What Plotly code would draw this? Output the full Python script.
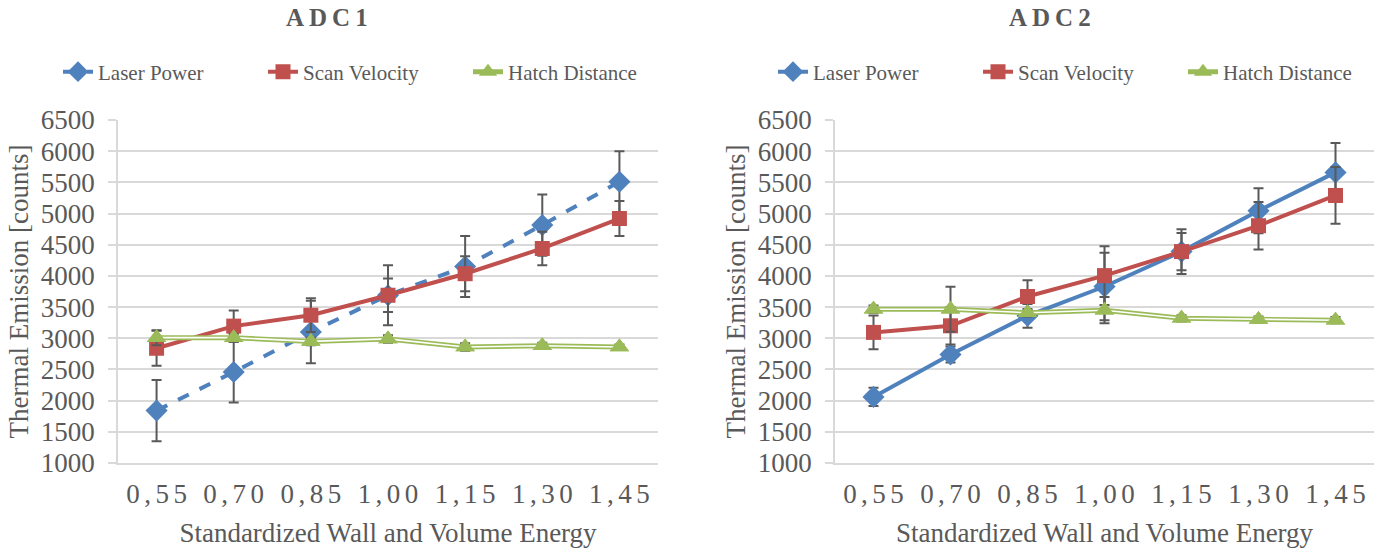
import plotly.graph_objects as go

categories = ["0,55", "0,70", "0,85", "1,00", "1,15", "1,30", "1,45"]
SP = "\u2006"
tick_text = [SP.join(c) for c in categories]
y_ticks = [1000, 1500, 2000, 2500, 3000, 3500, 4000, 4500, 5000, 5500, 6000, 6500]

# ADC1
laser1 = [1840, 2460, 3100, 3690, 4150, 4815, 5510]
laser1_err = [490, 490, 500, 480, 490, 490, 490]
scan1 = [2840, 3195, 3370, 3690, 4035, 4440, 4920]
scan1_err = [280, 250, 270, 270, 280, 270, 280]
hatch1 = [3010, 3010, 2950, 2990, 2860, 2880, 2860]
hatch1_err = [120, 60, 60, 60, 60, 50, 40]

# ADC2
laser2 = [2060, 2740, 3360, 3830, 4390, 5045, 5660]
laser2_err = [145, 130, 190, 540, 360, 360, 470]
scan2 = [3094, 3200, 3670, 4005, 4390, 4805, 5290]
scan2_err = [270, 300, 260, 470, 300, 380, 455]
hatch2 = [3465, 3465, 3410, 3450, 3320, 3300, 3290]
hatch2_err = [60, 360, 60, 210, 50, 50, 50]

BLUE = "#4F81BD"
RED = "#C0504D"
GREEN = "#9BBB59"
GRAY_TXT = "#595959"
GRID = "#D9D9D9"
ERR = "#595959"
FONT = "Liberation Serif"

fig = go.Figure()


def err(vals):
    return dict(type="data", array=vals, visible=True, color=ERR, thickness=2, width=5)


def add_panel(xa, ya, leg, laser, laser_err, scan, scan_err, hatch, hatch_err, dash):
    fig.add_trace(go.Scatter(
        x=categories, y=laser, name="Laser Power", mode="lines+markers",
        line=dict(color=BLUE, width=4, dash=dash),
        marker=dict(symbol="diamond", size=17, color=BLUE),
        error_y=err(laser_err), xaxis=xa, yaxis=ya, legend=leg))
    fig.add_trace(go.Scatter(
        x=categories, y=scan, name="Scan Velocity", mode="lines+markers",
        line=dict(color=RED, width=4),
        marker=dict(symbol="square", size=15, color=RED),
        error_y=err(scan_err), xaxis=xa, yaxis=ya, legend=leg))
    fig.add_trace(go.Scatter(
        x=categories, y=hatch, name="Hatch Distance", mode="lines+markers",
        line=dict(color=GREEN, width=5),
        marker=dict(symbol="triangle-up", size=17, color=GREEN),
        error_y=err(hatch_err), xaxis=xa, yaxis=ya, legend=leg))
    fig.add_trace(go.Scatter(
        x=categories, y=hatch, mode="lines", showlegend=False, hoverinfo="skip",
        line=dict(color="white", width=1.6), xaxis=xa, yaxis=ya))
    fig.add_trace(go.Scatter(
        x=categories, y=hatch, mode="markers", showlegend=False, hoverinfo="skip",
        marker=dict(symbol="triangle-up", size=17, color=GREEN), xaxis=xa, yaxis=ya))


add_panel("x", "y", "legend", laser1, laser1_err, scan1, scan1_err, hatch1, hatch1_err, "dash")
add_panel("x2", "y2", "legend2", laser2, laser2_err, scan2, scan2_err, hatch2, hatch2_err, "solid")

W, H = 1384, 550


def px_x(p):
    return p / W


def px_y(p):
    return 1 - p / H


xaxis_common = dict(
    type="category", categoryorder="array", categoryarray=categories,
    tickmode="array", tickvals=categories, ticktext=tick_text,
    showgrid=False, showline=True, linecolor=GRID, linewidth=1.5,
    ticks="", tickfont=dict(family=FONT, size=27, color=GRAY_TXT),
    ticklabelstandoff=6, automargin=False,
    title=dict(text="Standardized Wall and Volume Energy",
               font=dict(family=FONT, size=27, color=GRAY_TXT), standoff=15),
    range=[-0.5, 6.5], fixedrange=True,
)
yaxis_common = dict(
    range=[1000, 6500], tickvals=y_ticks, showgrid=True, gridcolor=GRID, gridwidth=1.5,
    showline=True, linecolor=GRID, linewidth=1.5, zeroline=False,
    ticks="outside", ticklen=8, tickcolor=GRID, tickwidth=1.5,
    tickfont=dict(family=FONT, size=27, color=GRAY_TXT), ticklabelstandoff=8,
    automargin=False,
    title=dict(text="Thermal Emission [counts]",
               font=dict(family=FONT, size=27, color=GRAY_TXT), standoff=4),
    fixedrange=True,
)

ydom = [px_y(463), px_y(120)]
fig.update_layout(
    width=W, height=H,
    margin=dict(l=0, r=0, t=0, b=0, autoexpand=False),
    paper_bgcolor="white", plot_bgcolor="white",
    xaxis=dict(domain=[px_x(118), px_x(658)], anchor="y", **xaxis_common),
    yaxis=dict(domain=ydom, anchor="x", **yaxis_common),
    xaxis2=dict(domain=[px_x(835), px_x(1374)], anchor="y2", **xaxis_common),
    yaxis2=dict(domain=ydom, anchor="x2", **yaxis_common),
    legend=dict(orientation="h", x=px_x(58), xanchor="left", y=px_y(72), yanchor="middle",
                font=dict(family=FONT, size=21, color=GRAY_TXT),
                entrywidth=160, entrywidthmode="pixels", bgcolor="rgba(0,0,0,0)"),
    legend2=dict(orientation="h", x=px_x(773), xanchor="left", y=px_y(72), yanchor="middle",
                 font=dict(family=FONT, size=21, color=GRAY_TXT),
                 entrywidth=160, entrywidthmode="pixels", bgcolor="rgba(0,0,0,0)"),
    showlegend=True,
    annotations=[
        dict(text="<b>A\u2009D\u2009C\u20091</b>", x=px_x(327), y=px_y(18), xref="paper", yref="paper",
             showarrow=False, xanchor="center", yanchor="middle",
             font=dict(family=FONT, size=25, color=GRAY_TXT)),
        dict(text="<b>A\u2009D\u2009C\u20092</b>", x=px_x(1050), y=px_y(18), xref="paper", yref="paper",
             showarrow=False, xanchor="center", yanchor="middle",
             font=dict(family=FONT, size=25, color=GRAY_TXT)),
    ],
)

fig.write_html("out.html", config={"displayModeBar": False},
               post_script="document.body.style.margin='0px';")
